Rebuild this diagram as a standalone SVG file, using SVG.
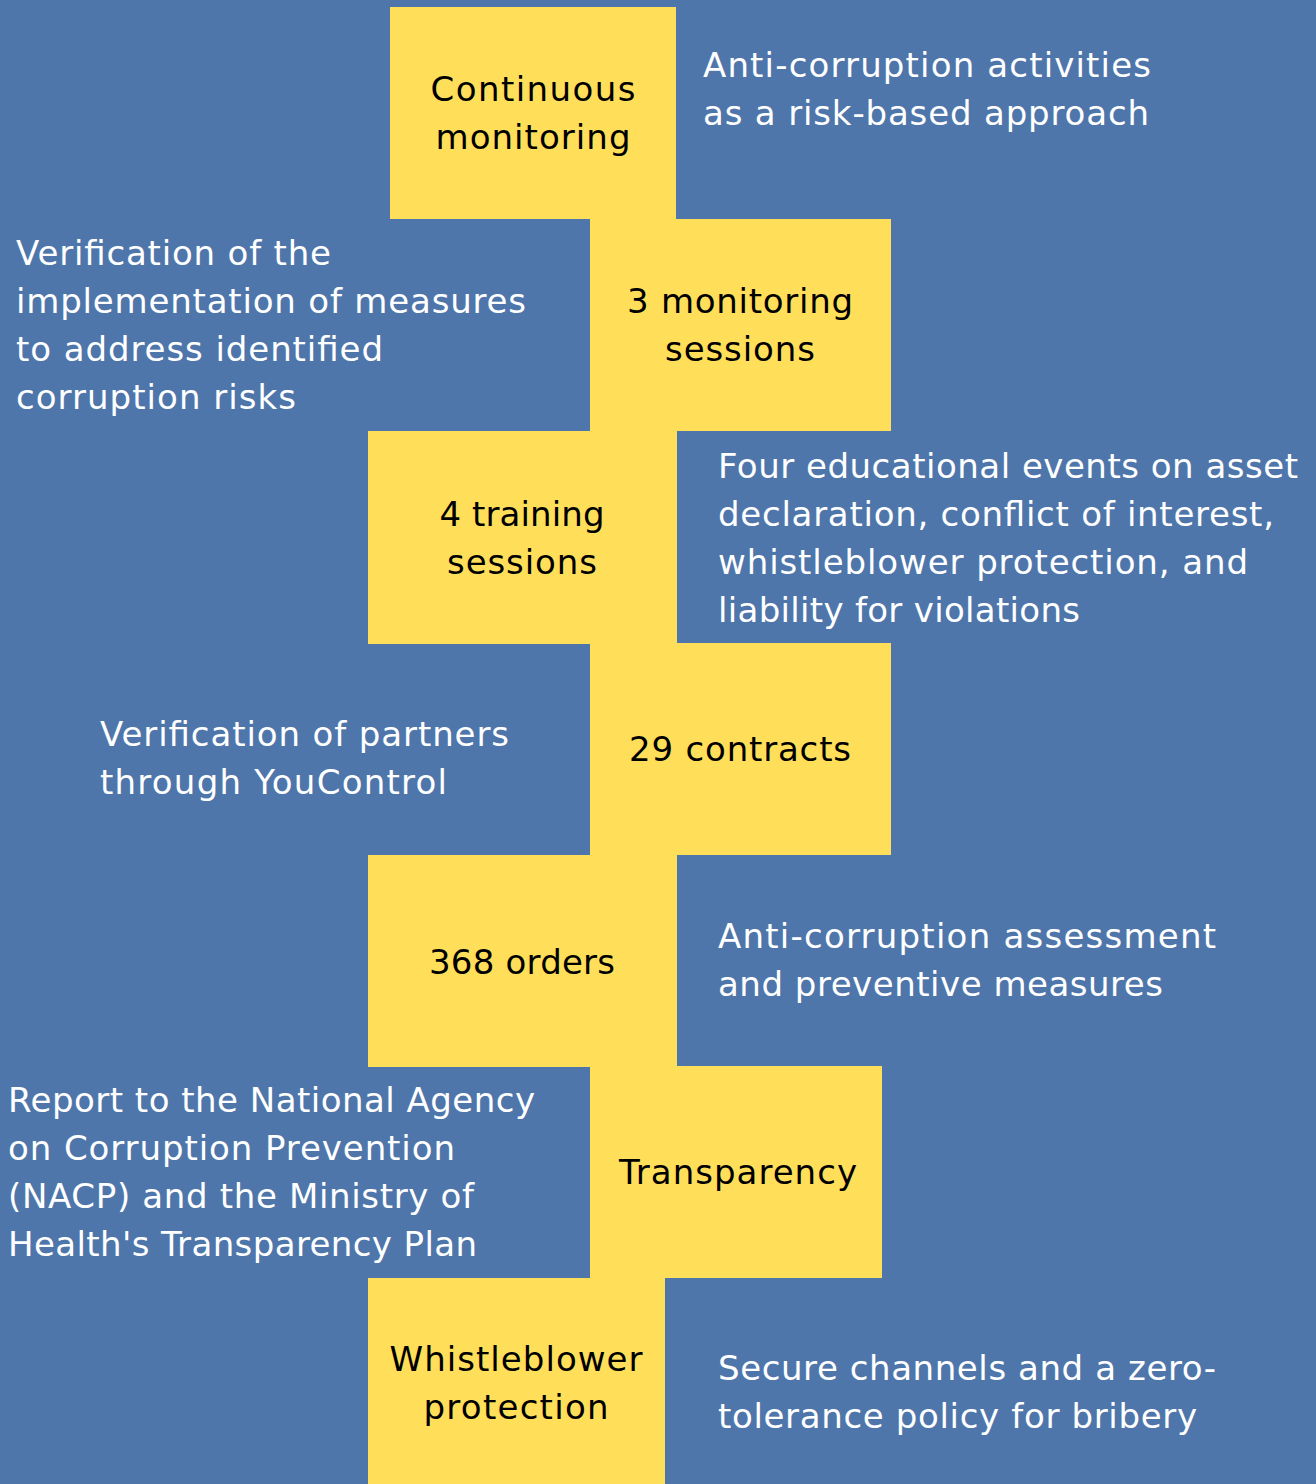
<svg xmlns="http://www.w3.org/2000/svg" width="1316" height="1484" viewBox="0 0 1316 1484">
<style>
.box{fill:#FFDE59}
.t{font-family:"DejaVu Sans","Open Sans",sans-serif;font-size:34px;fill:#000;text-anchor:middle}
.d{font-family:"DejaVu Sans","Open Sans",sans-serif;font-size:34px;fill:#FFFFFF}
</style>
<rect width="1316" height="1484" fill="#4E76AB"/>
<g id="node-continuous-monitoring">
<rect class="box" x="390" y="7" width="286" height="212"/>
<text class="t" x="533" y="101" textLength="205" lengthAdjust="spacing">Continuous</text>
<text class="t" x="533" y="149" textLength="195" lengthAdjust="spacing">monitoring</text>
</g>
<g id="desc-risk-based">
<text class="d" x="703" y="77" textLength="448" lengthAdjust="spacing">Anti-corruption activities</text>
<text class="d" x="703" y="125" textLength="446" lengthAdjust="spacing">as a risk-based approach</text>
</g>
<g id="node-monitoring-sessions">
<rect class="box" x="590" y="219" width="301" height="212"/>
<text class="t" x="740" y="313" textLength="226" lengthAdjust="spacing">3 monitoring</text>
<text class="t" x="740" y="361" textLength="150" lengthAdjust="spacing">sessions</text>
</g>
<g id="desc-verification-measures">
<text class="d" x="16" y="265" textLength="315" lengthAdjust="spacing">Verification of the</text>
<text class="d" x="16" y="313" textLength="510" lengthAdjust="spacing">implementation of measures</text>
<text class="d" x="16" y="361" textLength="367" lengthAdjust="spacing">to address identified</text>
<text class="d" x="16" y="409" textLength="280" lengthAdjust="spacing">corruption risks</text>
</g>
<g id="node-training-sessions">
<rect class="box" x="368" y="431" width="309" height="213"/>
<text class="t" x="522" y="526" textLength="165" lengthAdjust="spacing">4 training</text>
<text class="t" x="522" y="574" textLength="150" lengthAdjust="spacing">sessions</text>
</g>
<g id="desc-educational-events">
<text class="d" x="718" y="478" textLength="580" lengthAdjust="spacing">Four educational events on asset</text>
<text class="d" x="718" y="526" textLength="556" lengthAdjust="spacing">declaration, conflict of interest,</text>
<text class="d" x="718" y="574" textLength="530" lengthAdjust="spacing">whistleblower protection, and</text>
<text class="d" x="718" y="622" textLength="362" lengthAdjust="spacing">liability for violations</text>
</g>
<g id="node-contracts">
<rect class="box" x="590" y="643" width="301" height="212"/>
<text class="t" x="740" y="761" textLength="222" lengthAdjust="spacing">29 contracts</text>
</g>
<g id="desc-partners">
<text class="d" x="100" y="746" textLength="409" lengthAdjust="spacing">Verification of partners</text>
<text class="d" x="100" y="794" textLength="347" lengthAdjust="spacing">through YouControl</text>
</g>
<g id="node-orders">
<rect class="box" x="368" y="855" width="309" height="212"/>
<text class="t" x="522" y="974" textLength="186" lengthAdjust="spacing">368 orders</text>
</g>
<g id="desc-assessment">
<text class="d" x="718" y="948" textLength="498" lengthAdjust="spacing">Anti-corruption assessment</text>
<text class="d" x="718" y="996" textLength="445" lengthAdjust="spacing">and preventive measures</text>
</g>
<g id="node-transparency">
<rect class="box" x="590" y="1066" width="292" height="212"/>
<text class="t" x="738" y="1184" textLength="238" lengthAdjust="spacing">Transparency</text>
</g>
<g id="desc-report">
<text class="d" x="8" y="1112" textLength="527" lengthAdjust="spacing">Report to the National Agency</text>
<text class="d" x="8" y="1160" textLength="447" lengthAdjust="spacing">on Corruption Prevention</text>
<text class="d" x="8" y="1208" textLength="466" lengthAdjust="spacing">(NACP) and the Ministry of</text>
<text class="d" x="8" y="1256" textLength="469" lengthAdjust="spacing">Health's Transparency Plan</text>
</g>
<g id="node-whistleblower">
<rect class="box" x="368" y="1278" width="297" height="206"/>
<text class="t" x="516" y="1371" textLength="253" lengthAdjust="spacing">Whistleblower</text>
<text class="t" x="516" y="1419" textLength="185" lengthAdjust="spacing">protection</text>
</g>
<g id="desc-secure-channels">
<text class="d" x="718" y="1380" textLength="498" lengthAdjust="spacing">Secure channels and a zero-</text>
<text class="d" x="718" y="1428" textLength="479" lengthAdjust="spacing">tolerance policy for bribery</text>
</g>
</svg>
